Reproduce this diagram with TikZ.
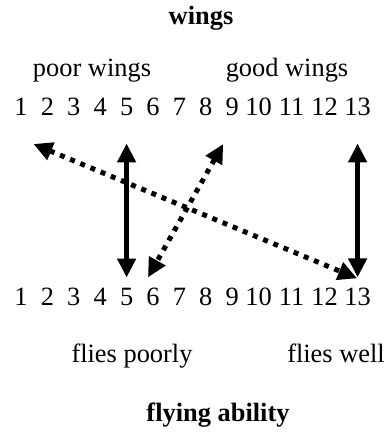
\documentclass[tikz,border=0pt]{standalone}
\usepackage{fontspec}
\setmainfont{Liberation Serif}
\usetikzlibrary{arrows.meta,calc}

\begin{document}
\begin{tikzpicture}[x=1pt,y=-1pt,font=\fontsize{26.4}{30}\selectfont,>={Triangle[length=19pt,width=18pt]},
    num/.style={anchor=base,inner sep=0pt},
    lbl/.style={anchor=base},
    twoway/.style={<->,line width=5pt},
    dotway/.style={<->,line width=5pt,dash pattern=on 5pt off 6pt}]
    \useasboundingbox (0,0) rectangle (386,436);
    \node[lbl] (wtitle) at (201,25) {\bfseries wings};
    \node[lbl] (poor) at (92,77) {poor wings};
    \node[lbl] (good) at (287,77) {good wings};
    \foreach \n/\x in {1/21,2/47.4,3/73.8,4/100.2,5/126.6,6/153,7/179.4,8/205.8,9/232.2,10/258.6,11/291.6,12/324.6,13/357.6}{
      \node[num] (t\n) at (\x,115) {\n};
      \node[num] (b\n) at (\x,305) {\n};
    }
    \node[lbl] (fpoor) at (132,362) {flies poorly};
    \node[lbl] (fwell) at (336,362) {flies well};
    \node[lbl] (ftitle) at (218,421) {\bfseries flying ability};
    \coordinate (dl) at ($(t2.base)+(-14,29)$);
    \coordinate (dr) at ($(b13.north)+(-0.6,-9)$);
    \coordinate (ct) at ($(t9.base)+(-9,29)$);
    \coordinate (cb) at ($(b6.north)+(-5,-10)$);
    \draw[dotway] (dl) -- (dr);
    \draw[dotway] (ct) -- (cb);
    \draw[twoway,shorten <=28pt,shorten >=10pt] (t5) -- (b5);
    \draw[twoway,shorten <=28pt,shorten >=10pt] (t13) -- (b13);
  \end{tikzpicture}
\end{document}
